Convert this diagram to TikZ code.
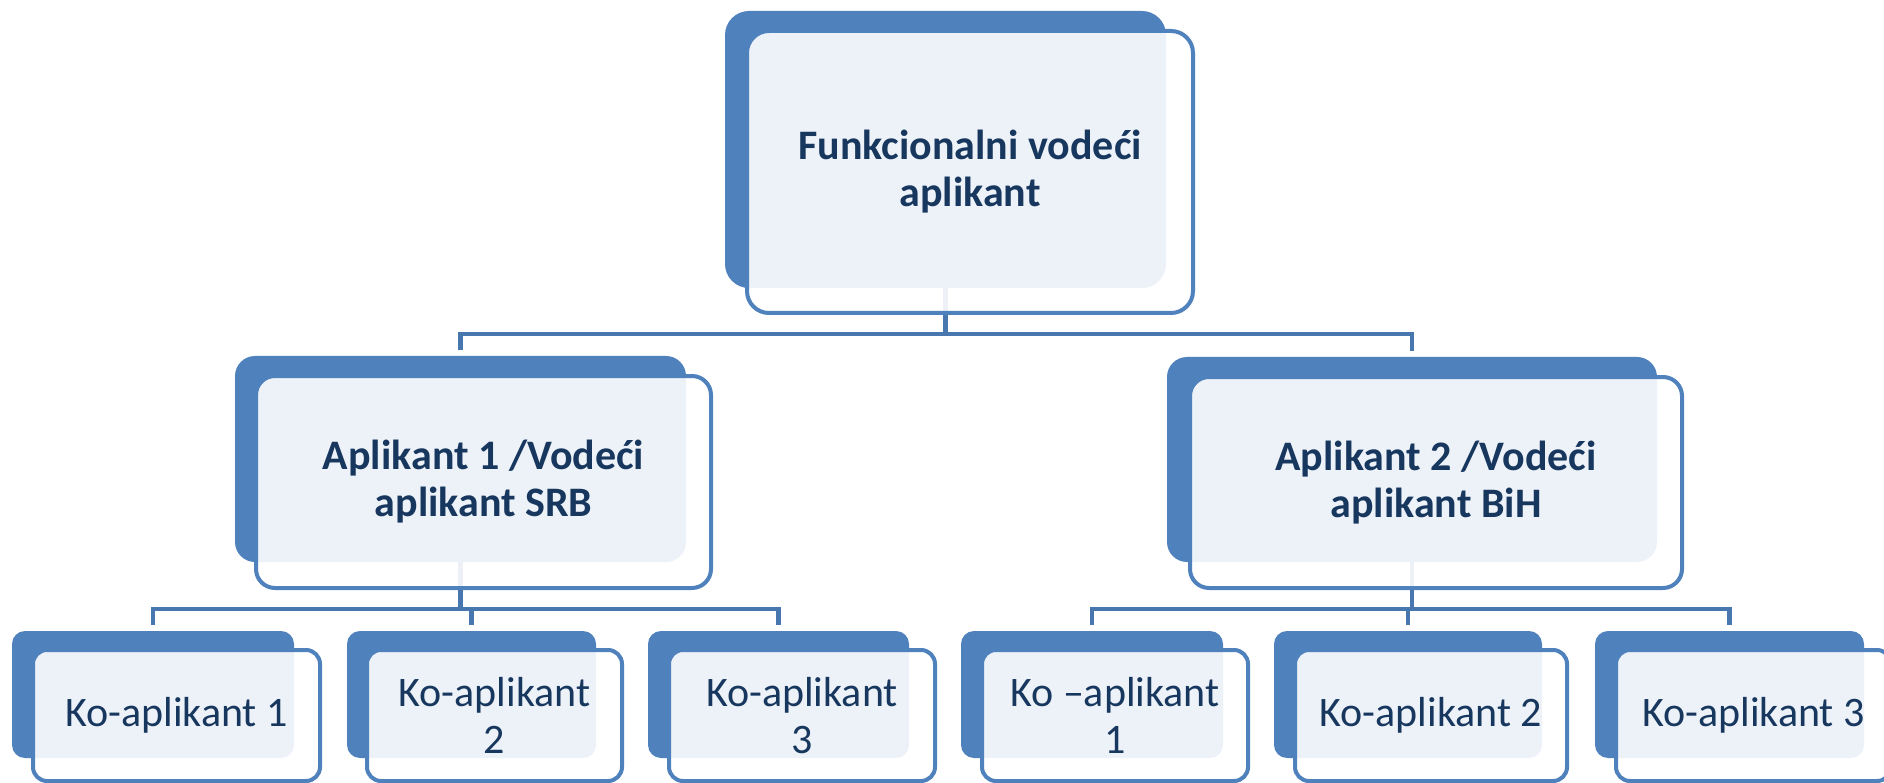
\documentclass[tikz,border=0pt]{standalone}
\usepackage{fontspec}
\setmainfont{Carlito}
\usetikzlibrary{backgrounds}
\definecolor{accent}{HTML}{4F81BD}
\definecolor{conncol}{HTML}{4876AE}
\definecolor{txtcol}{HTML}{17375E}
\begin{document}
\begin{tikzpicture}[x=1pt,y=-1pt,
  backbox/.style={rectangle, fill=accent, draw=none, inner sep=0pt},
  frontbox/.style={rectangle, draw=accent, line width=4pt, fill=white, fill opacity=0.9,
    text opacity=1, inner sep=0pt, text=txtcol, align=center},
  boldtxt/.style={font=\fontsize{42}{47}\selectfont\bfseries},
  regtxt/.style={font=\fontsize{42}{47}\selectfont},
  conn/.style={draw=conncol, line width=4.5pt}
]
\useasboundingbox (0,0) rectangle (1884,783);
\clip (0,0) rectangle (1884,783);

% coordinates of the horizontal bars
\coordinate (bar1) at (0,334);
\coordinate (bar2) at (0,609);

% ---------- top box ----------
\node[backbox, rounded corners=24pt, minimum width=441pt, minimum height=277pt] (topb) at (945.5,149.5) {};
\node[frontbox, boldtxt, rounded corners=22pt, minimum width=446pt, minimum height=282pt] (topw) at (970,172) {Funkcionalni vodeći\\aplikant};

% ---------- middle boxes ----------
\node[backbox, rounded corners=20pt, minimum width=451pt, minimum height=206pt] (a1b) at (460.5,459) {};
\node[frontbox, boldtxt, rounded corners=19pt, minimum width=455pt, minimum height=212pt] (a1w) at (483.5,482) {Aplikant 1 /Vodeći\\aplikant SRB};

\node[backbox, rounded corners=20pt, minimum width=490pt, minimum height=205pt] (a2b) at (1412,459.5) {};
\node[frontbox, boldtxt, rounded corners=19pt, minimum width=492pt, minimum height=211pt] (a2w) at (1436,482.5) {Aplikant 2 /Vodeći\\aplikant BiH};

% ---------- bottom boxes ----------
\node[backbox, rounded corners=13pt, minimum width=282pt, minimum height=127pt] (k1b) at (153,694.5) {};
\node[frontbox, regtxt, rounded corners=14pt, minimum width=287pt, minimum height=131pt] (k1w) at (176.5,715.5) {Ko-aplikant 1};

\node[backbox, rounded corners=13pt, minimum width=249pt, minimum height=127pt] (k2b) at (471.5,694.5) {};
\node[frontbox, regtxt, rounded corners=14pt, minimum width=255pt, minimum height=131pt] (k2w) at (494.5,715.5) {Ko-aplikant\\2};

\node[backbox, rounded corners=13pt, minimum width=261pt, minimum height=127pt] (k3b) at (778.5,694.5) {};
\node[frontbox, regtxt, rounded corners=14pt, minimum width=266pt, minimum height=131pt] (k3w) at (802,715.5) {Ko-aplikant\\3};

\node[backbox, rounded corners=13pt, minimum width=262pt, minimum height=127pt] (r1b) at (1092,694.5) {};
\node[frontbox, regtxt, rounded corners=14pt, minimum width=266pt, minimum height=131pt] (r1w) at (1115,715.5) {Ko –aplikant\\1};

\node[backbox, rounded corners=13pt, minimum width=268pt, minimum height=127pt] (r2b) at (1408,694.5) {};
\node[frontbox, regtxt, rounded corners=14pt, minimum width=272pt, minimum height=131pt] (r2w) at (1431,715.5) {Ko-aplikant 2};

\node[backbox, rounded corners=13pt, minimum width=269pt, minimum height=127pt] (r3b) at (1729.5,694.5) {};
\node[frontbox, regtxt, rounded corners=14pt, minimum width=275pt, minimum height=131pt] (r3w) at (1753.5,715.5) {Ko-aplikant 3};

% ---------- connectors (behind the boxes) ----------
\begin{scope}[on background layer]
\draw[conn] (topb.south) -- (topb.south |- bar1);
\draw[conn] ([yshift=6pt]a1b.north) -- (a1b.north |- bar1) -- (a2b.north |- bar1) -- ([yshift=6pt]a2b.north);

\draw[conn] (a1b.south) -- (a1b.south |- bar2);
\draw[conn] ([yshift=6pt]k1b.north) -- (k1b.north |- bar2) -- (k3b.north |- bar2) -- ([yshift=6pt]k3b.north);
\draw[conn] (k2b.north |- bar2) -- ([yshift=6pt]k2b.north);

\draw[conn] (a2b.south) -- (a2b.south |- bar2);
\draw[conn] ([yshift=6pt]r1b.north) -- (r1b.north |- bar2) -- (r3b.north |- bar2) -- ([yshift=6pt]r3b.north);
\draw[conn] (r2b.north |- bar2) -- ([yshift=6pt]r2b.north);
\end{scope}
\end{tikzpicture}
\end{document}
